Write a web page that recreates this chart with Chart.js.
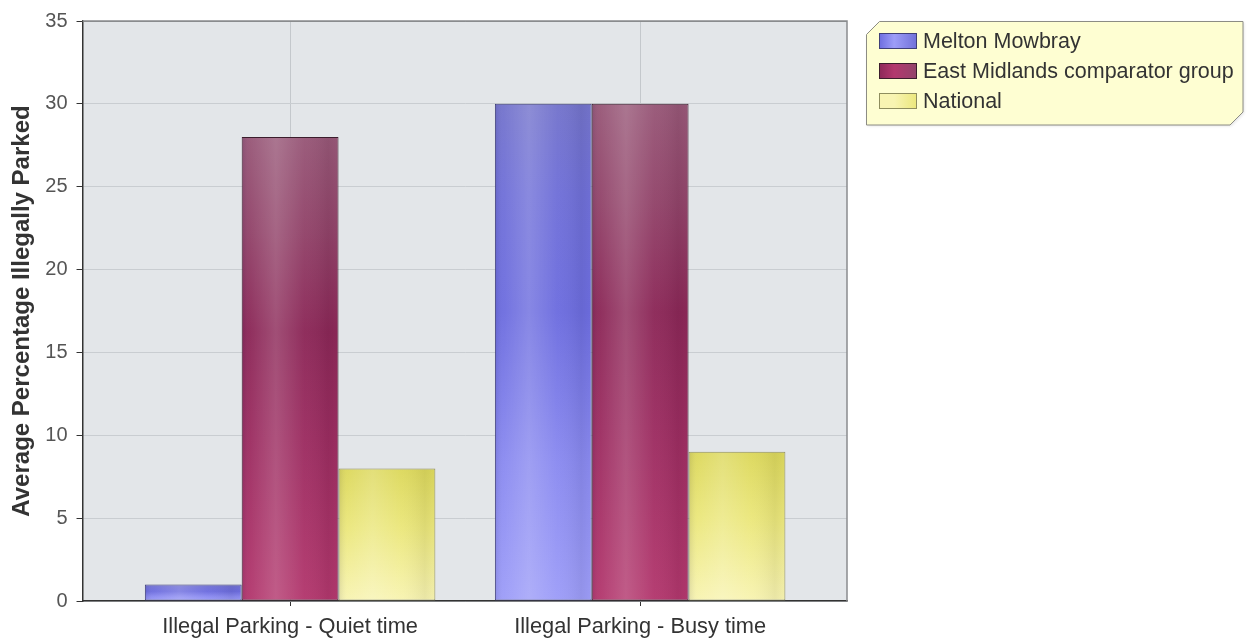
<!DOCTYPE html>
<html>
<head>
<meta charset="utf-8">
<title>Average Percentage Illegally Parked</title>
<script src="https://cdn.jsdelivr.net/npm/chart.js@4/dist/chart.umd.min.js"></script>
<style>
  html, body { margin: 0; padding: 0; background: #ffffff; }
  #wrap { width: 1256px; height: 640px; position: relative; }
</style>
</head>
<body>
<div id="wrap"><canvas id="chart" width="1256" height="640"></canvas></div>
<script>
// Survey categories and results (percent of vehicles illegally parked)
const categories = ['Illegal Parking - Quiet time', 'Illegal Parking - Busy time'];
const seriesNames = ['Melton Mowbray', 'East Midlands comparator group', 'National'];
const meltonMowbray = [1, 30];
const eastMidlands = [28, 30];
const national = [8, 9];
const yAxisTitle = 'Average Percentage Illegally Parked';
const yMin = 0, yMax = 35, yStep = 5;

// Shaded fills: colour stops from the top of a bar to its base
const shades = [
  { stops: [[0, '#7474cc'], [0.18, '#7070d8'], [0.42, '#6d6ddf'], [0.72, '#8a8af0'], [1, '#9d9df8']], border: '#3f3f78' },
  { stops: [[0, '#985878'], [0.2, '#92446a'], [0.42, '#8c2858'], [0.65, '#9c2d61'], [1, '#b3386e']], border: '#3b1d2c' },
  { stops: [[0, '#dcd85c'], [0.45, '#ebe77c'], [1, '#f8f4b2']], border: '#8e8d5e' }
];

function barFill(stops) {
  return (c) => {
    const chart = c.chart;
    if (!chart.chartArea || c.type !== 'data' || !chart.scales.y) return stops[1][1];
    const y = chart.scales.y;
    const top = y.getPixelForValue(c.parsed ? c.parsed.y : 0);
    const base = y.getPixelForValue(0);
    const g = chart.ctx.createLinearGradient(0, top, 0, Math.max(base, top + 1));
    stops.forEach(([o, col]) => g.addColorStop(o, col));
    return g;
  };
}

const seriesValues = [meltonMowbray, eastMidlands, national];
const datasets = seriesValues.map((vals, s) => ({
  label: seriesNames[s],
  data: vals.map((v, i) => ({ x: i, y: v })),
  backgroundColor: barFill(shades[s].stops),
  borderColor: shades[s].border,
  borderWidth: 1,
  borderSkipped: false,
  categoryPercentage: 0.83,
  barPercentage: 1.0
}));

// Plot background, top/right frame
const plotFrame = {
  id: 'plotFrame',
  beforeDraw(chart) {
    const { ctx, chartArea: a } = chart;
    ctx.save();
    ctx.fillStyle = '#e3e6e9';
    ctx.fillRect(a.left, a.top, a.right - a.left, a.bottom - a.top);
    ctx.restore();
  },
  afterDraw(chart) {
    const { ctx, chartArea: a } = chart;
    ctx.save();
    ctx.strokeStyle = '#8a8c8e';
    ctx.lineWidth = 1.5;
    ctx.beginPath();
    ctx.moveTo(a.left, a.top);
    ctx.lineTo(a.right, a.top);
    ctx.lineTo(a.right, a.bottom);
    ctx.stroke();
    ctx.restore();
  }
};

// Cylinder-like sheen across each bar
const barSheen = {
  id: 'barSheen',
  afterDatasetsDraw(chart) {
    const ctx = chart.ctx;
    chart.data.datasets.forEach((ds, di) => {
      const meta = chart.getDatasetMeta(di);
      meta.data.forEach((el) => {
        const p = el.getProps(['x', 'y', 'base', 'width'], true);
        const l = p.x - p.width / 2 + 1, r = p.x + p.width / 2 - 1;
        const t = Math.min(p.y, p.base) + 1, b = Math.max(p.y, p.base) - 1;
        if (b - t < 1) return;
        const g = ctx.createLinearGradient(l, 0, r, 0);
        g.addColorStop(0, 'rgba(40,40,90,0.10)');
        g.addColorStop(0.08, 'rgba(255,255,255,0.04)');
        g.addColorStop(0.35, 'rgba(255,255,255,0.18)');
        g.addColorStop(0.65, 'rgba(255,255,255,0.03)');
        g.addColorStop(0.9, 'rgba(0,0,0,0.06)');
        g.addColorStop(1, 'rgba(0,0,0,0.02)');
        ctx.save();
        ctx.fillStyle = g;
        ctx.fillRect(l, t, r - l, b - t);
        ctx.restore();
      });
    });
  }
};

// Legend panel with clipped corners
const legendPanel = {
  id: 'legendPanel',
  afterDraw(chart) {
    const ctx = chart.ctx;
    const L = 866.5, T = 21.5, R = 1243, B = 125, cut = 13;
    ctx.save();
    ctx.shadowColor = 'rgba(0,0,0,0.12)';
    ctx.shadowBlur = 3;
    ctx.shadowOffsetX = 1;
    ctx.shadowOffsetY = 1;
    ctx.beginPath();
    ctx.moveTo(L, T + cut);
    ctx.lineTo(L + cut, T);
    ctx.lineTo(R, T);
    ctx.lineTo(R, B - cut);
    ctx.lineTo(R - cut, B);
    ctx.lineTo(L, B);
    ctx.closePath();
    ctx.fillStyle = '#fefed2';
    ctx.fill();
    ctx.shadowColor = 'transparent';
    ctx.strokeStyle = '#8c8c84';
    ctx.lineWidth = 1;
    ctx.stroke();

    const rows = [41, 71, 101];
    ctx.font = "21.5px 'Liberation Sans', Arial, sans-serif";
    ctx.textBaseline = 'middle';
    chart.data.datasets.forEach((ds, i) => {
      const cy = rows[i];
      const sx = 879, sw = 38, sh = 16, sy = cy - sh / 2;
      const st = shades[i].stops;
      const g = ctx.createLinearGradient(sx, 0, sx + sw, 0);
      g.addColorStop(0, st[2][1]);
      g.addColorStop(0.4, st[st.length - 1][1]);
      g.addColorStop(1, st[1][1]);
      ctx.fillStyle = g;
      ctx.fillRect(sx, sy, sw, sh);
      ctx.strokeStyle = shades[i].border;
      ctx.strokeRect(sx + 0.5, sy + 0.5, sw - 1, sh - 1);
      ctx.fillStyle = '#333333';
      ctx.fillText(ds.label, 923, cy + 1);
    });
    ctx.restore();
  }
};

Chart.defaults.font.family = "'Liberation Sans', Arial, sans-serif";

new Chart(document.getElementById('chart'), {
  type: 'bar',
  data: { datasets },
  options: {
    responsive: false,
    animation: false,
    layout: { padding: { left: 7.5, top: 21, right: 409, bottom: 0 } },
    plugins: {
      legend: { display: false },
      tooltip: { enabled: false }
    },
    scales: {
      x: {
        type: 'linear',
        min: -0.593,
        max: 1.591,
        bounds: 'data',
        offset: false,
        // one tick per category, at the centre of each bar group
        afterBuildTicks: (scale) => {
          scale.ticks = categories.map((_, i) => ({ value: i }));
        },
        afterFit: (scale) => { scale.height = 39; },
        grid: {
          offset: false,
          color: '#c4c8cc',
          tickColor: '#333333',
          tickLength: 5,
          lineWidth: 1
        },
        border: { color: '#333333', width: 1.5 },
        ticks: {
          autoSkip: false,
          maxRotation: 0,
          padding: 8,
          color: '#333333',
          font: { size: 21.8 },
          callback: (v) => (categories[Math.round(v)] !== undefined ? categories[Math.round(v)] : '')
        }
      },
      y: {
        min: yMin,
        max: yMax,
        grid: {
          color: (c) => (c.tick && c.tick.value === yMax ? '#8a8c8e' : '#c9cdd1'),
          tickColor: '#333333',
          tickLength: 6
        },
        border: { color: '#333333', width: 1.5 },
        ticks: {
          stepSize: yStep,
          padding: 9,
          color: '#555555',
          font: { size: 20 }
        },
        title: {
          display: true,
          text: yAxisTitle,
          color: '#333333',
          font: { size: 24, weight: 'bold' },
          padding: { top: 0, bottom: 0 }
        }
      }
    }
  },
  plugins: [plotFrame, barSheen, legendPanel]
});
</script>
</body>
</html>
